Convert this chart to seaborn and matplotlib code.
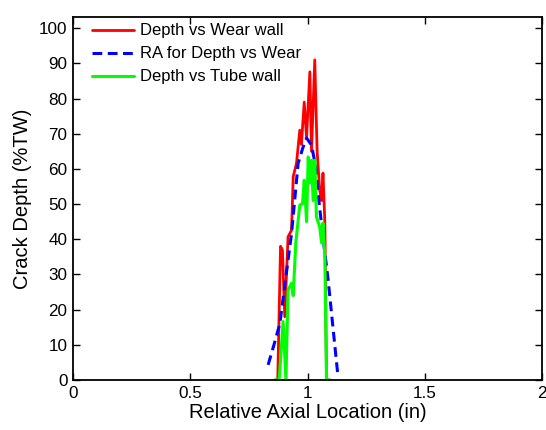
import numpy as np
import pandas as pd
import matplotlib
matplotlib.use("Agg")
import matplotlib.pyplot as plt
import seaborn as sns

sns.set_theme(style="white")
plt.rcParams["font.family"] = ["Liberation Sans", "DejaVu Sans"]
plt.rcParams["text.color"] = "black"

# Depth profile measured against the wear wall
wear_x = [0.861, 0.873, 0.885, 0.893, 0.903, 0.917, 0.932, 0.939, 0.953, 0.967,
          0.974, 0.986, 0.996, 1.010, 1.017, 1.031, 1.041, 1.052, 1.060, 1.066,
          1.074, 1.081, 1.095]
wear_y = [0, 0, 38, 37, 18, 40.7, 42.6, 57.8, 61.6, 71,
          67, 79, 69, 87.6, 65, 91, 65, 54, 51, 58.8,
          44.6, 0, 0]

# Running average of the wear-wall profile
ra_x = [0.832, 0.857, 0.882, 0.907, 0.932, 0.960, 0.980, 0.996, 1.017, 1.031,
        1.045, 1.066, 1.088, 1.110, 1.130]
ra_y = [4.3, 10, 16, 29, 41.7, 61.6, 66, 68.8, 66.8, 62,
        53, 40.6, 28.4, 14, 1]

# Depth profile measured against the tube wall
tube_x = [0.861, 0.879, 0.896, 0.908, 0.917, 0.932, 0.939, 0.950, 0.967, 0.979,
          0.986, 0.996, 1.003, 1.010, 1.017, 1.024, 1.031, 1.038, 1.052, 1.060,
          1.066, 1.074, 1.081, 1.095]
tube_y = [0, 0, 16.6, 0, 25.6, 27.5, 24, 39, 49.7, 50.2,
          56.8, 45, 63.4, 56, 62.5, 51, 62.5, 46.4, 43.5, 39,
          44.6, 35, 0, 0]

labels = ["Depth vs Wear wall", "RA for Depth vs Wear", "Depth vs Tube wall"]
x_ticks = [0, 0.5, 1, 1.5, 2]
y_ticks = list(range(0, 101, 10))

fig = plt.figure(figsize=(5.46, 4.30), dpi=100)
ax = fig.add_axes([0.1337, 0.1163, 0.8590, 0.8442])

sns.lineplot(x=wear_x, y=wear_y, ax=ax, color=(1, 0, 0), lw=2,
             estimator=None, sort=False, label=labels[0])
sns.lineplot(x=ra_x, y=ra_y, ax=ax, color=(0, 0, 1), lw=2.2, dashes=False,
             linestyle=(0, (3.2, 1.8)), estimator=None, sort=False, label=labels[1])
sns.lineplot(x=tube_x, y=tube_y, ax=ax, color=(0, 1, 0), lw=2.2,
             estimator=None, sort=False, label=labels[2])

ax.set_xlim(0, 2)
ax.set_ylim(0, 103.2)
ax.set_xticks(x_ticks)
ax.set_xticklabels(["0", "0.5", "1", "1.5", "2"])
ax.set_yticks(y_ticks)
ax.tick_params(direction="in", length=5, width=1, color="black",
               labelsize=12.3, labelcolor="black", pad=4,
               top=True, right=True, bottom=True, left=True)
for s in ax.spines.values():
    s.set_visible(True)
    s.set_color("black")
    s.set_linewidth(1.3)

ax.set_xlabel("Relative Axial Location (in)", fontsize=14.5, color="black", labelpad=2)
ax.set_ylabel("Crack Depth (%TW)", fontsize=14.5, color="black", labelpad=5)

leg = ax.legend(loc="upper left", frameon=False, fontsize=12,
                handlelength=2.5, handletextpad=0.35, labelspacing=0.48,
                borderaxespad=0.2, bbox_to_anchor=(0.02, 1.01))

fig.savefig("out.png", dpi=100)
